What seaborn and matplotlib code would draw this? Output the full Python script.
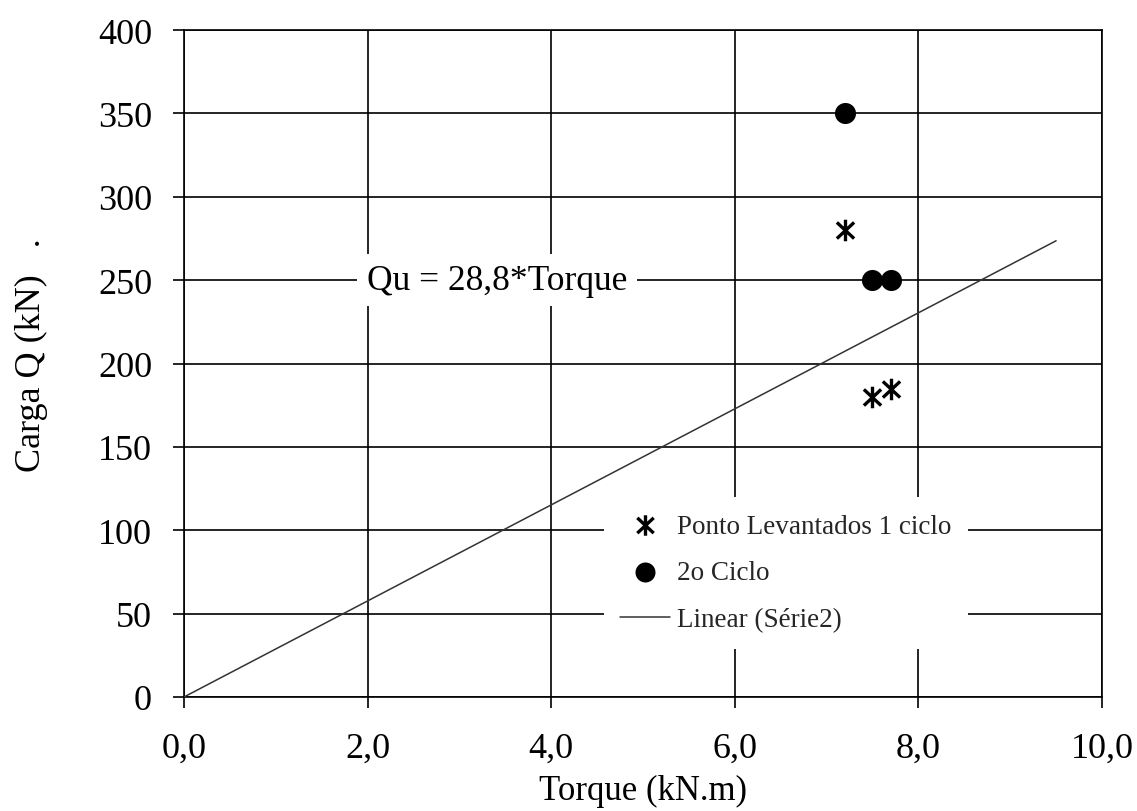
import matplotlib
matplotlib.use("Agg")
import matplotlib.pyplot as plt
from matplotlib.path import Path
import seaborn as sns
import numpy as np
import pandas as pd

# Measured points (torque kN.m, load kN)
torque_ciclo1 = [7.2, 7.5, 7.7]
carga_ciclo1 = [280, 180, 185]
torque_ciclo2 = [7.2, 7.5, 7.7]
carga_ciclo2 = [350, 250, 250]

# Linear trend Qu = 28,8 * Torque
slope = 28.8
trend_torque = [0.0, 9.5]

x_ticks = [0, 2, 4, 6, 8, 10]
x_ticklabels = ["0,0", "2,0", "4,0", "6,0", "8,0", "10,0"]
y_ticks = [0, 50, 100, 150, 200, 250, 300, 350, 400]
y_ticklabels = ["0", "50", "100", "150", "200", "250", "300", "350", "400"]

# Asterisk marker: a vertical stroke crossed by an X
star_path = Path(
    [(0, -1), (0, 1), (-0.8, -0.75), (0.8, 0.75), (-0.8, 0.75), (0.8, -0.75)],
    [Path.MOVETO, Path.LINETO, Path.MOVETO, Path.LINETO, Path.MOVETO, Path.LINETO],
)

sns.set_theme(style="white")
plt.rcParams["font.family"] = ["Liberation Serif", "DejaVu Serif"]

fig = plt.figure(figsize=(11.37, 8.12), dpi=100)
ax = fig.add_axes([0.1618, 0.1404, 0.8074, 0.8214])

df1 = pd.DataFrame({"Torque": torque_ciclo1, "Carga": carga_ciclo1})
df2 = pd.DataFrame({"Torque": torque_ciclo2, "Carga": carga_ciclo2})
trend = pd.DataFrame({"Torque": trend_torque,
                      "Carga": [slope * t for t in trend_torque]})

sns.scatterplot(data=df1, x="Torque", y="Carga", ax=ax, marker=star_path,
                s=240, color="black", edgecolor="black", linewidth=2.4,
                label="Ponto Levantados 1 ciclo", zorder=4)
sns.scatterplot(data=df2, x="Torque", y="Carga", ax=ax, marker="o",
                s=230, color="black", edgecolor="black", linewidth=0,
                label="2o Ciclo", zorder=4)
sns.lineplot(data=trend, x="Torque", y="Carga", ax=ax, color="#333333",
             linewidth=1.1, label="Linear (Série2)", zorder=3)

ax.set_xlim(0, 10)
ax.set_ylim(0, 400)
ax.set_xticks(x_ticks)
ax.set_xticklabels(x_ticklabels)
ax.set_yticks(y_ticks)
ax.set_yticklabels(y_ticklabels)

ax.grid(True, color="black", linewidth=1.2)
ax.set_axisbelow(True)
for side in ["left", "bottom", "top", "right"]:
    ax.spines[side].set_visible(True)
    ax.spines[side].set_color("black")
    ax.spines[side].set_linewidth(1.2)

ax.tick_params(axis="both", which="major", labelsize=26, length=8,
               width=1.2, color="black", labelcolor="black", direction="out")
ax.tick_params(axis="y", pad=15, left=True, right=False)
ax.tick_params(axis="x", pad=17, bottom=True, top=False)

ax.set_xlabel("Torque (kN.m)", fontsize=25, color="black", labelpad=7)
ax.set_ylabel("Carga Q (kN)   .", fontsize=26, color="black")
ax.yaxis.set_label_coords(-0.148, 0.514)

ax.text(3.41, 250, "Qu = 28,8*Torque", fontsize=25.5, color="black",
        ha="center", va="center", zorder=5,
        bbox=dict(facecolor="white", edgecolor="none", pad=7))

leg = ax.legend(loc="upper left", bbox_to_anchor=(0.4423, 0.3197),
                fontsize=19.5, frameon=True, facecolor="white",
                edgecolor="none", framealpha=1.0, fancybox=False,
                handlelength=1.85, handletextpad=0.26, labelspacing=0.81,
                borderpad=0.6, markerscale=0.95)
leg.set_zorder(6)

fig.savefig("out.png", dpi=100)
